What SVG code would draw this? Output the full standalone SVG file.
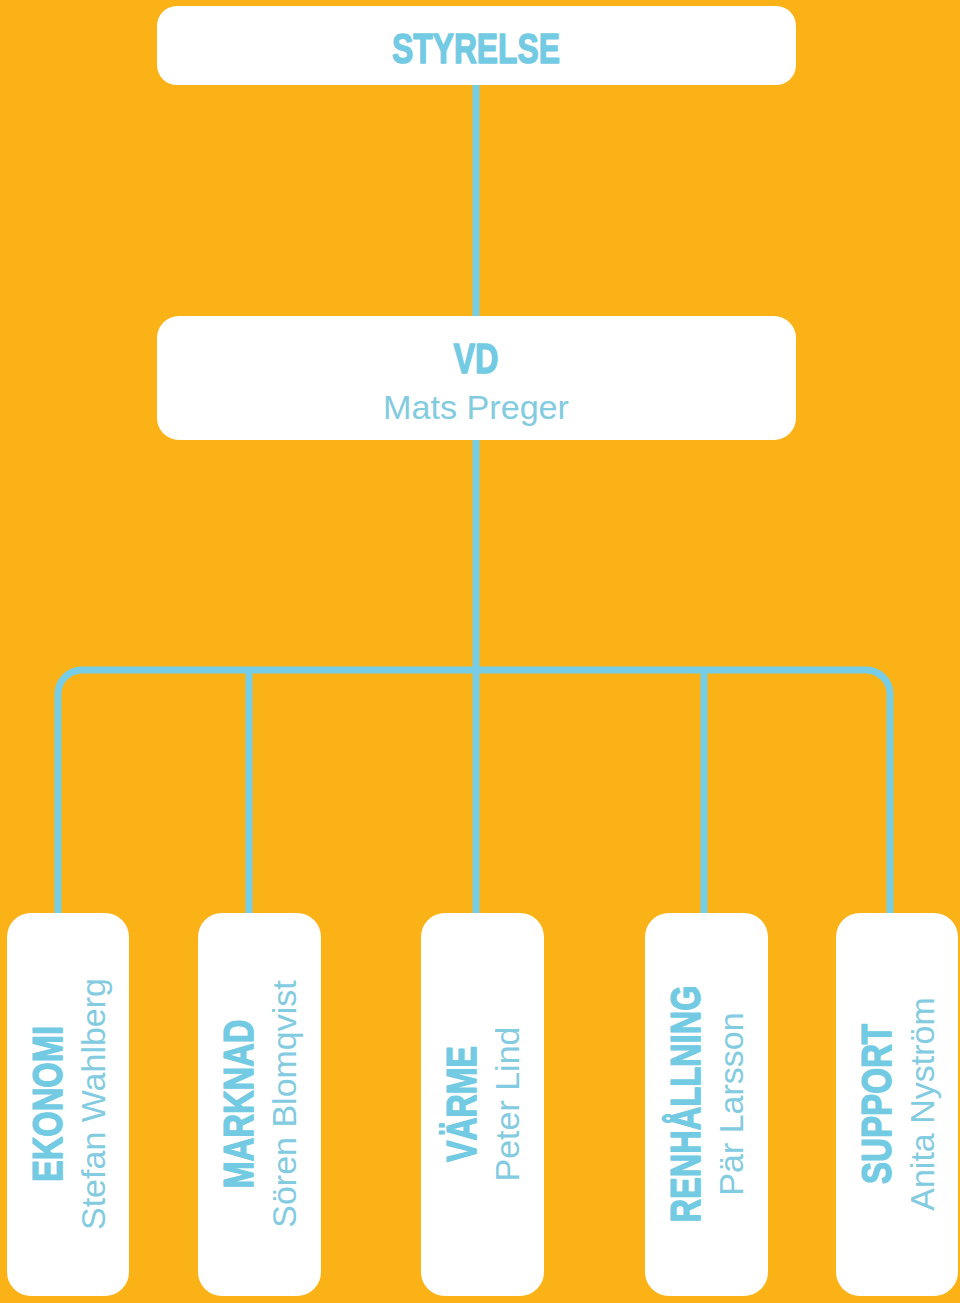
<svg xmlns="http://www.w3.org/2000/svg" width="960" height="1303" viewBox="0 0 960 1303">
<style>
.box{fill:#FFFFFF}
.conn{fill:none;stroke:#76CDE5;stroke-width:7}
.head{font-family:"Liberation Sans",Arial,sans-serif;font-weight:bold;font-size:42px;fill:#72CAE3;stroke:#72CAE3;stroke-width:1.4;stroke-linejoin:round;text-anchor:middle}
.name{font-family:"Liberation Sans",Arial,sans-serif;font-size:34px;fill:#82CBE0;text-anchor:middle}
</style>
<rect width="960" height="1303" fill="#FBB217"/>
<g id="connectors">
<path class="conn" d="M476 85 V316"/>
<path class="conn" d="M476 440 V913"/>
<path class="conn" d="M58 913 V694 A24 24 0 0 1 82 670 H866 A24 24 0 0 1 890 694 V913"/>
<path class="conn" d="M249 670 V913"/>
<path class="conn" d="M704 670 V913"/>
</g>
<g id="styrelse">
<rect class="box" x="157" y="6" width="639" height="79" rx="20"/>
<text class="head" x="476" y="63" textLength="168" lengthAdjust="spacingAndGlyphs">STYRELSE</text>
</g>
<g id="vd">
<rect class="box" x="157" y="316" width="639" height="124" rx="22"/>
<text class="head" x="476" y="373" textLength="45" lengthAdjust="spacingAndGlyphs">VD</text>
<text class="name" x="476" y="419" textLength="186" lengthAdjust="spacingAndGlyphs">Mats Preger</text>
</g>
<g id="ekonomi">
<rect class="box" x="7" y="913" width="122" height="383" rx="24"/>
<text class="head" transform="translate(62 1104) rotate(-90)" textLength="156" lengthAdjust="spacingAndGlyphs">EKONOMI</text>
<text class="name" transform="translate(105 1104) rotate(-90)">Stefan Wahlberg</text>
</g>
<g id="marknad">
<rect class="box" x="198" y="913" width="123" height="383" rx="24"/>
<text class="head" transform="translate(253 1104) rotate(-90)" textLength="169" lengthAdjust="spacingAndGlyphs">MARKNAD</text>
<text class="name" transform="translate(296 1104) rotate(-90)">Sören Blomqvist</text>
</g>
<g id="varme">
<rect class="box" x="421" y="913" width="123" height="383" rx="24"/>
<text class="head" transform="translate(476 1104) rotate(-90)" textLength="116" lengthAdjust="spacingAndGlyphs">VÄRME</text>
<text class="name" transform="translate(519 1104) rotate(-90)">Peter Lind</text>
</g>
<g id="renhallning">
<rect class="box" x="645" y="913" width="123" height="383" rx="24"/>
<text class="head" transform="translate(700 1104) rotate(-90)" textLength="237" lengthAdjust="spacingAndGlyphs">RENHÅLLNING</text>
<text class="name" transform="translate(743 1104) rotate(-90)">Pär Larsson</text>
</g>
<g id="support">
<rect class="box" x="836" y="913" width="122" height="383" rx="24"/>
<text class="head" transform="translate(891 1104) rotate(-90)" textLength="160" lengthAdjust="spacingAndGlyphs">SUPPORT</text>
<text class="name" transform="translate(934 1104) rotate(-90)">Anita Nyström</text>
</g>
</svg>
